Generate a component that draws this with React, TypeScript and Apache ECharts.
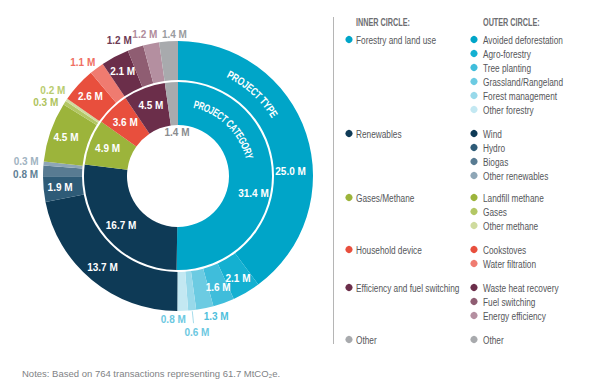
import React, { useEffect, useRef } from 'react';
import * as echarts from 'echarts';

// ---------- data ----------
const innerNames = ['Forestry and land use', 'Renewables', 'Gases/Methane', 'Household device', 'Efficiency and fuel switching', 'Other'];
const innerValues = [31.4, 16.7, 4.9, 3.6, 4.5, 1.4];

const outerNames = [
  ['Avoided deforestation', 'Agro-forestry', 'Tree planting', 'Grassland/Rangeland', 'Forest management', 'Other forestry'],
  ['Wind', 'Hydro', 'Biogas', 'Other renewables'],
  ['Landfill methane', 'Gases', 'Other methane'],
  ['Cookstoves', 'Water filtration'],
  ['Waste heat recovery', 'Fuel switching', 'Energy efficiency'],
  ['Other'],
];
const outerValues = [
  [25.0, 2.1, 1.6, 1.3, 0.6, 0.8],
  [13.7, 1.9, 0.8, 0.3],
  [4.5, 0.3, 0.2],
  [2.6, 1.1],
  [2.1, 1.2, 1.2],
  [1.4],
];
const legendHeaders = ['INNER CIRCLE:', 'OUTER CIRCLE:'];
const outerTitle = 'PROJECT TYPE';
const innerTitle = 'PROJECT CATEGORY';
const noteText = 'Notes: Based on 764 transactions representing 61.7 MtCO\u2082e.';

// ---------- styles ----------
const innerColors = ['#00a5c8', '#0e3a56', '#9cb43b', '#e84f3d', '#6b2e4a', '#a8aaad'];
const outerColors = [
  ['#00a5c8', '#14b0d1', '#3fbddb', '#6ccbe2', '#98d9ea', '#c3e8f2'],
  ['#0e3a56', '#2e5b77', '#587b92', '#8ea6b6'],
  ['#9cb43b', '#b3c764', '#cfdb9e'],
  ['#e84f3d', '#ef7b70'],
  ['#6b2e4a', '#8f5d72', '#b48fa0'],
  ['#a8aaad'],
];
const outerLabelColors = [
  ['#fff', '#fff', '#fff', '#4fbfdc', '#6cc8e1', '#6cc8e1'],
  ['#fff', '#fff', '#5f7f95', '#9fb3c1'],
  ['#fff', '#aec35c', '#b9cc70'],
  ['#fff', '#ef6f63'],
  ['#fff', '#6e3b55', '#b08c9c'],
  ['#9a9c9f'],
];
// small layout nudges for outside labels (pixels)
const labelNudge: Record<string, [number, number]> = {
  'Fuel switching': [-11, 1],
  'Energy efficiency': [-3, 0],
  'Gases': [-5, 5],
  'Other methane': [0, -4],
  'Biogas': [-1, 4],
  'Other renewables': [-1, -1],
  'Other forestry': [-10, 0],
  'Forest management': [3, 13],
  'Grassland/Rangeland': [8, -1],
  'Water filtration': [-4, 1],
  'Other': [7, 2],
};
const SANS = "'Liberation Sans', Arial, sans-serif";
const CX = 178;
const CY = 176;
const R_OUT = 135;
const INSIDE_MIN = 1.5;

function measure(text: string, font: string): number {
  const c = document.createElement('canvas').getContext('2d');
  if (!c) return text.length * 6;
  c.font = font;
  return c.measureText(text).width;
}

function arcText(text: string, r: number, a0deg: number, a1deg: number, fontSize: number) {
  const font = `bold ${fontSize}px ${SANS}`;
  const widths = text.split('').map((ch) => measure(ch, font));
  const total = widths.reduce((a, b) => a + b, 0);
  const a0 = (a0deg * Math.PI) / 180;
  const a1 = (a1deg * Math.PI) / 180;
  const k = (r * (a1 - a0)) / total;
  let cum = 0;
  const els: any[] = [];
  text.split('').forEach((ch, i) => {
    const s = (cum + widths[i] / 2) * k;
    cum += widths[i];
    const th = a0 + s / r;
    els.push({
      type: 'text',
      z: 50,
      x: CX + r * Math.sin(th),
      y: CY - r * Math.cos(th),
      rotation: -th,
      scaleX: k,
      silent: true,
      style: { text: ch, fill: '#ffffff', font, align: 'center', verticalAlign: 'middle' },
    });
  });
  return els;
}

function legendGraphics() {
  const els: any[] = [];
  const txtColor = '#55565a';
  const font = `11.5px ${SANS}`;
  const sx = 0.72;
  const hFont = `bold 11px ${SANS}`;
  const hsx = 0.66;
  els.push({ type: 'line', z: 50, silent: true, shape: { x1: 333.5, y1: 17, x2: 333.5, y2: 344 }, style: { stroke: '#b5b5b5', lineWidth: 1 } });
  els.push({ type: 'text', z: 50, x: 356, y: 22, scaleX: hsx, silent: true, style: { text: legendHeaders[0], fill: '#6d6e71', font: hFont, align: 'left', verticalAlign: 'middle' } });
  els.push({ type: 'text', z: 50, x: 483, y: 22, scaleX: hsx, silent: true, style: { text: legendHeaders[1], fill: '#6d6e71', font: hFont, align: 'left', verticalAlign: 'middle' } });
  let y = 39.5;
  innerNames.forEach((name, g) => {
    els.push({ type: 'circle', z: 50, silent: true, shape: { cx: 349, cy: y, r: 3.6 }, style: { fill: innerColors[g] } });
    els.push({ type: 'text', z: 50, x: 356, y, scaleX: sx, silent: true, style: { text: name, fill: txtColor, font, align: 'left', verticalAlign: 'middle' } });
    outerNames[g].forEach((n, i) => {
      const yy = y + i * 14;
      els.push({ type: 'circle', z: 50, silent: true, shape: { cx: 474, cy: yy, r: 3.6 }, style: { fill: outerColors[g][i] } });
      els.push({ type: 'text', z: 50, x: 483, y: yy, scaleX: sx, silent: true, style: { text: n, fill: txtColor, font, align: 'left', verticalAlign: 'middle' } });
    });
    y += outerNames[g].length * 14 + (g === 1 ? 8 : 10);
  });
  els.push({ type: 'text', z: 50, x: 22, y: 373, silent: true, style: { text: noteText, fill: '#808285', font: `9.5px ${SANS}`, align: 'left', verticalAlign: 'middle' } });
  return els;
}

export default function App() {
  const ref = useRef<HTMLDivElement>(null);
  useEffect(() => {
    if (!ref.current) return;
    const chart = echarts.init(ref.current, undefined, { renderer: 'svg' });
    const fmt = (p: any) => `${Number(p.value).toFixed(1)} M`;

    const innerData = innerNames.map((n, i) => ({
      name: n,
      value: innerValues[i],
      itemStyle: { color: innerColors[i] },
      label: i === innerNames.length - 1 ? { color: '#8a8c8f' } : undefined,
    }));

    const outerData: any[] = [];
    const outerFlat: number[] = [];
    const outerFlatNames: string[] = [];
    outerNames.forEach((grp, g) => {
      grp.forEach((n, i) => {
        const v = outerValues[g][i];
        outerFlat.push(v);
        outerFlatNames.push(n);
        const inside = v >= INSIDE_MIN;
        outerData.push({
          name: n,
          value: v,
          itemStyle: { color: outerColors[g][i] },
          label: { position: inside ? 'inside' : 'outside', color: outerLabelColors[g][i] },
          labelLine: n === 'Forest management'
            ? { show: true, length: 8, length2: 0, lineStyle: { color: '#8fd3e6', width: 0.8 } }
            : { show: false, length: 3, length2: 0 },
        });
      });
    });
    const outerTotal = outerFlat.reduce((a, b) => a + b, 0);
    const midAngle = (idx: number) => {
      let cum = 0;
      for (let k = 0; k < idx; k++) cum += outerFlat[k];
      return ((cum + outerFlat[idx] / 2) / outerTotal) * Math.PI * 2;
    };

    const labelBase = { show: true, formatter: fmt, fontFamily: SANS, fontWeight: 'bold' as const, fontSize: 10, color: '#fff' };

    chart.setOption({
      animation: false,
      backgroundColor: '#ffffff',
      series: [
        {
          type: 'pie',
          name: 'Project category',
          center: [CX, CY],
          radius: [51, 94],
          startAngle: 90,
          avoidLabelOverlap: false,
          silent: true,
          label: { ...labelBase, position: 'inside' },
          labelLine: { show: false },
          labelLayout: (p: any) => {
            if (p.dataIndex === 0) return { dy: 17 };
            if (p.dataIndex === innerNames.length - 1) return { x: CX - 1, y: CY - 44, align: 'center', verticalAlign: 'middle' };
            return {};
          },
          data: innerData,
        },
        {
          type: 'pie',
          name: 'Project type',
          center: [CX, CY],
          radius: [96, R_OUT],
          startAngle: 90,
          avoidLabelOverlap: false,
          silent: true,
          label: { ...labelBase },
          labelLine: { show: false },
          labelLayout: (p: any) => {
            const idx = p.dataIndex;
            if (idx === 0) return { dy: 33 };
            if (outerFlat[idx] >= INSIDE_MIN) return {};
            const th = midAngle(idx);
            const s = Math.sin(th);
            const c = Math.cos(th);
            const w = p.labelRect ? p.labelRect.width : 20;
            const h = p.labelRect ? p.labelRect.height : 11;
            const R = R_OUT + 4;
            const nudge = labelNudge[outerFlatNames[idx]] || [0, 0];
            const x = CX + R * s + (w / 2) * s + nudge[0];
            const y = CY - R * c - (h / 2) * c + nudge[1];
            const res: any = { x, y, align: 'center', verticalAlign: 'middle' };
            if (outerFlatNames[idx] === 'Forest management') {
              const p0 = [CX + (R_OUT + 1) * s, CY - (R_OUT + 1) * c];
              const p1 = [CX + (R_OUT + 13) * s, CY - (R_OUT + 13) * c];
              res.labelLinePoints = [p0, p1, p1];
            }
            return res;
          },
          data: outerData,
        },
      ],
      graphic: [
        ...arcText(outerTitle, 114, 26, 58.5, 11),
        ...arcText(innerTitle, 74, 12.5, 76.5, 11),
        ...legendGraphics(),
      ],
    });
    return () => chart.dispose();
  }, []);
  return <div ref={ref} style={{ position: 'absolute', left: 0, top: 0, width: 600, height: 380, background: '#fff' }} />;
}
